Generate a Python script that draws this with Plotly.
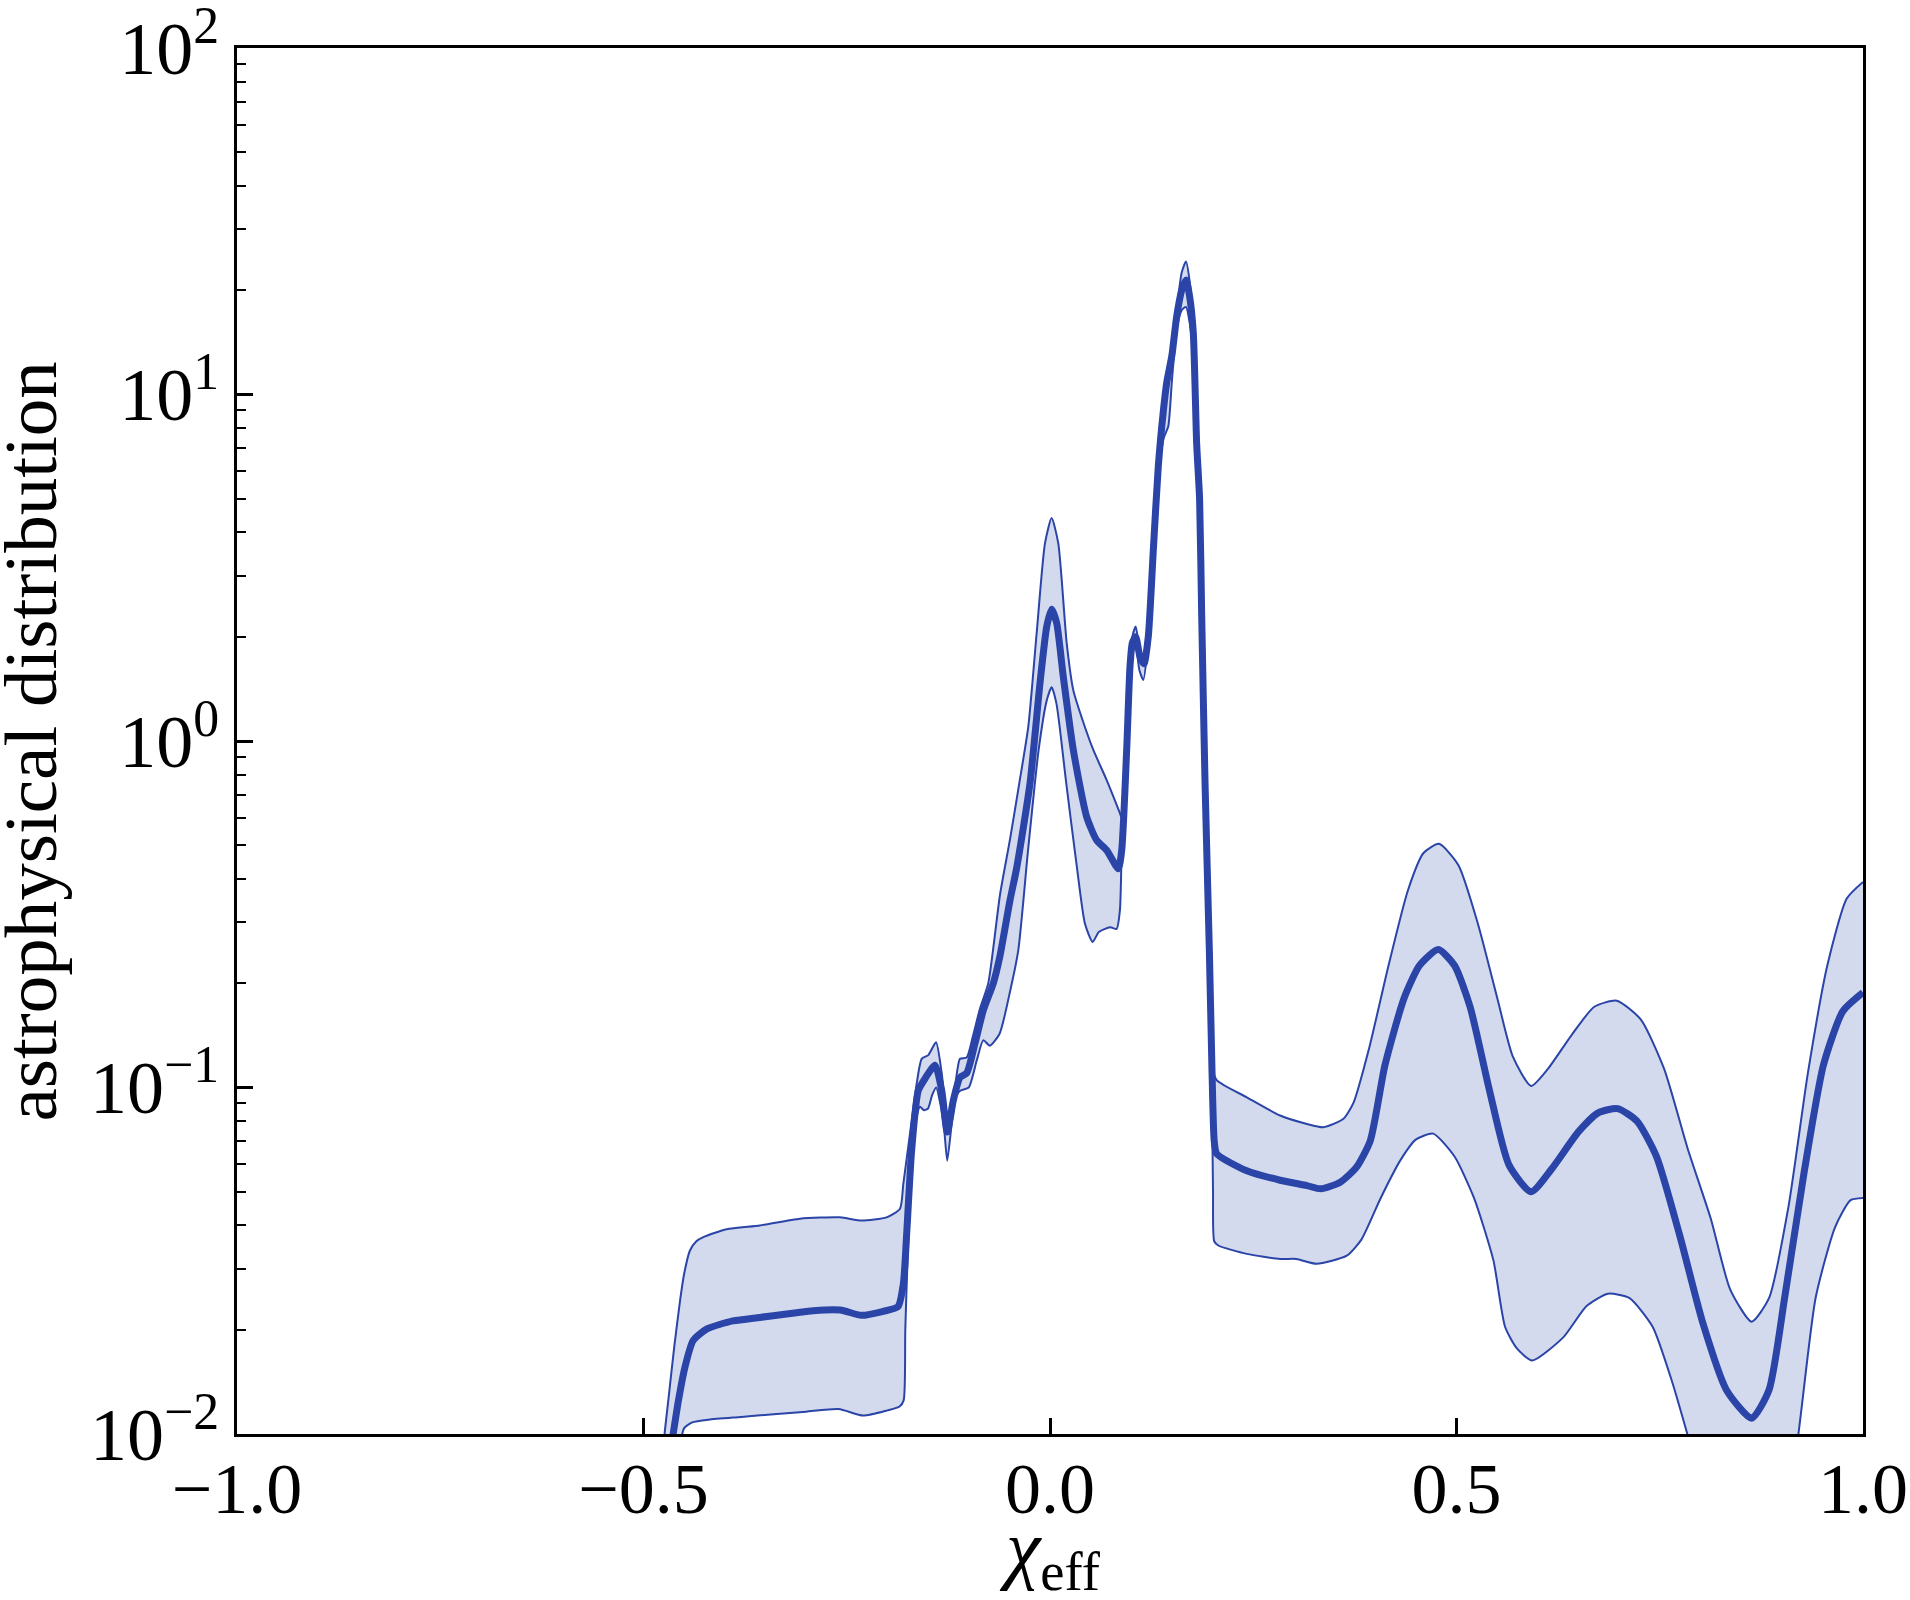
import plotly.graph_objects as go

# ---------------- data ----------------
x_median = [-0.478, -0.465, -0.457, -0.449, -0.439, -0.422, -0.390, -0.357, -0.324, -0.291,
            -0.258, -0.232, -0.205, -0.187, -0.1804, -0.1763, -0.1702, -0.162, -0.1538, -0.1415,
            -0.1332, -0.1264, -0.1189, -0.1107, -0.1025, -0.0923, -0.082, -0.0697, -0.0615, -0.0492,
            -0.041, -0.0246, -0.0123, -0.004, 0.002, 0.0082, 0.0164, 0.0287, 0.0451, 0.0574,
            0.0697, 0.084, 0.0882, 0.0943, 0.0984, 0.1013, 0.1054, 0.1107, 0.1156, 0.1209,
            0.1271, 0.1332, 0.1395, 0.1435, 0.150, 0.1558, 0.162, 0.1673, 0.172, 0.1763,
            0.1804, 0.1840, 0.1866, 0.1907, 0.196, 0.1993, 0.202, 0.205, 0.242, 0.283,
            0.316, 0.333, 0.357, 0.377, 0.394, 0.412, 0.4355, 0.4546, 0.4776, 0.4976,
            0.5167, 0.5406, 0.5645, 0.5917, 0.617, 0.6504, 0.6743, 0.6982, 0.722, 0.746,
            0.7746, 0.803, 0.832, 0.863, 0.8844, 0.9036, 0.9274, 0.9513, 0.9752, 1.0]
y_median = [0.006, 0.0095, 0.0125, 0.0156, 0.0186, 0.0201, 0.0212, 0.0217, 0.0222, 0.0227,
            0.0228, 0.022, 0.0226, 0.0233, 0.0271, 0.0378, 0.0658, 0.098, 0.106, 0.116,
            0.098, 0.0744, 0.0918, 0.107, 0.110, 0.134, 0.167, 0.20, 0.24, 0.347,
            0.43, 0.755, 1.47, 2.14, 2.40, 2.19, 1.53, 0.942, 0.604, 0.517,
            0.484, 0.428, 0.484, 0.942, 1.64, 1.92, 2.0, 1.75, 1.67, 2.0,
            3.56, 6.2, 9.0, 10.8, 13.0, 16.8, 20.0, 21.4, 19.0, 15.0,
            7.2, 5.0, 2.29, 0.755, 0.249, 0.111, 0.07, 0.0644, 0.0575, 0.054,
            0.0521, 0.051, 0.0533, 0.0589, 0.0703, 0.116, 0.181, 0.225, 0.25, 0.225,
            0.171, 0.098, 0.0598, 0.050, 0.0582, 0.0747, 0.0845, 0.0869, 0.080, 0.0632,
            0.0374, 0.0209, 0.0134, 0.0111, 0.0134, 0.0247, 0.0566, 0.116, 0.166, 0.188]

x_upper = [-0.485, -0.476, -0.4695, -0.462, -0.455, -0.45, -0.443, -0.435, -0.4264, -0.3977,
           -0.3567, -0.3075, -0.2583, -0.2317, -0.201, -0.1845, -0.1804, -0.1722, -0.164, -0.1578,
           -0.1497, -0.1402, -0.1332, -0.1264, -0.1189, -0.1107, -0.1025, -0.095, -0.0861, -0.0759,
           -0.0615, -0.0492, -0.038, -0.0267, -0.0164, -0.0062, 0.002, 0.0102, 0.0205, 0.0287,
           0.04, 0.0533, 0.0697, 0.0861, 0.0882, 0.094, 0.0984, 0.1013, 0.1054, 0.11,
           0.1156, 0.1209, 0.1271, 0.1332, 0.138, 0.1435, 0.15, 0.1558, 0.162, 0.1673,
           0.172, 0.1763, 0.1804, 0.1840, 0.1866, 0.1907, 0.196, 0.1995, 0.205, 0.242,
           0.283, 0.316, 0.336, 0.361, 0.3735, 0.3926, 0.4164, 0.4403, 0.4594, 0.4785,
           0.5024, 0.5263, 0.5502, 0.5692, 0.5917, 0.6122, 0.6409, 0.6695, 0.6972, 0.7268,
           0.7555, 0.7842, 0.8128, 0.8367, 0.863, 0.8845, 0.9084, 0.9322, 0.9561, 0.98, 1.0]
y_upper = [0.003, 0.009, 0.0125, 0.018, 0.0243, 0.029, 0.0338, 0.036, 0.037, 0.039,
           0.040, 0.0418, 0.0422, 0.0413, 0.0422, 0.0447, 0.0527, 0.0736, 0.1026, 0.121,
           0.124, 0.135, 0.11, 0.08, 0.092, 0.121, 0.122, 0.14, 0.169, 0.2,
           0.36, 0.52, 0.75, 1.10, 2.05, 3.72, 4.40, 3.72, 1.92, 1.40,
           1.15, 0.942, 0.771, 0.618, 0.60, 0.96, 1.7, 2.0, 2.14, 1.85,
           1.72, 2.1, 3.7, 6.4, 9.0, 11.3, 13.5, 17.5, 22.5, 24.2,
           21.0, 15.5, 7.6, 5.2, 2.4, 0.8, 0.26, 0.115, 0.105, 0.0937,
           0.083, 0.0785, 0.0768, 0.0812, 0.0906, 0.130, 0.225, 0.371, 0.475, 0.505,
           0.438, 0.297, 0.181, 0.123, 0.101, 0.113, 0.141, 0.171, 0.178, 0.157,
           0.113, 0.0668, 0.0418, 0.0261, 0.0211, 0.0247, 0.0454, 0.110, 0.225, 0.351, 0.392]

x_lower = [-0.475, -0.46, -0.455, -0.45, -0.44, -0.42, -0.38, -0.34, -0.30, -0.26,
           -0.23, -0.20, -0.185, -0.18, -0.178, -0.175, -0.17, -0.165, -0.16, -0.155,
           -0.15, -0.145, -0.14, -0.135, -0.13, -0.1264, -0.12, -0.115, -0.11, -0.10,
           -0.09, -0.082, -0.074, -0.062, -0.049, -0.039, -0.027, -0.014, -0.004, 0.002,
           0.008, 0.020, 0.033, 0.043, 0.0525, 0.060, 0.074, 0.082, 0.086, 0.0882,
           0.094, 0.098, 0.101, 0.105, 0.110, 0.1148, 0.120, 0.127, 0.133, 0.140,
           0.1455, 0.150, 0.156, 0.162, 0.1673, 0.172, 0.176, 0.180, 0.1840, 0.187,
           0.191, 0.196, 0.199, 0.2005, 0.202, 0.207, 0.242, 0.283, 0.303, 0.328,
           0.365, 0.383, 0.4068, 0.4307, 0.4499, 0.4713, 0.4976, 0.5215, 0.5454, 0.5597,
           0.574, 0.5931, 0.6313, 0.66, 0.6862, 0.7125, 0.7412, 0.765, 0.785, 0.81,
           0.84, 0.87, 0.90, 0.92, 0.9417, 0.9656, 0.9847, 1.0]
y_lower = [0.002, 0.006, 0.0092, 0.0104, 0.0108, 0.011, 0.0112, 0.0114, 0.0116, 0.0118,
           0.0113, 0.0117, 0.012, 0.0125, 0.02, 0.033, 0.058, 0.08, 0.088, 0.086,
           0.087, 0.095, 0.1, 0.09, 0.075, 0.0615, 0.082, 0.095, 0.098, 0.1,
           0.12, 0.137, 0.132, 0.143, 0.19, 0.249, 0.484, 0.942, 1.31, 1.43,
           1.28, 0.755, 0.434, 0.297, 0.263, 0.281, 0.29, 0.287, 0.325, 0.48,
           0.93, 1.6, 1.85, 1.9, 1.6, 1.5, 1.85, 3.4, 6.0, 7.5,
           8.1, 11.0, 15.5, 17.5, 17.9, 16.0, 13.5, 6.8, 4.6, 2.2,
           0.72, 0.24, 0.105, 0.05, 0.036, 0.035, 0.0331, 0.032, 0.032, 0.031,
           0.0327, 0.0364, 0.048, 0.0615, 0.0707, 0.0736, 0.0632, 0.048, 0.0317, 0.0204,
           0.0177, 0.0163, 0.019, 0.0234, 0.0254, 0.0247, 0.0204, 0.0142, 0.0098, 0.006,
           0.0035, 0.003, 0.005, 0.0098, 0.0247, 0.0395, 0.0473, 0.048]

x_tickvals = [-1.0, -0.5, 0.0, 0.5, 1.0]
x_ticktext = ["\u22121.0", "\u22120.5", "0.0", "0.5", "1.0"]
y_tickvals = [0.01, 0.1, 1, 10, 100]
y_ticktext = ["10<sup>\u22122</sup>", "10<sup>\u22121</sup>", "10<sup>0</sup>",
              "10<sup>1</sup>", "10<sup>2</sup>"]
y_minor = [m * 10.0 ** e for e in (-2, -1, 0, 1) for m in range(2, 10)]
x_title = "<i>\u03c7</i><sub>eff</sub>"
y_title = "astrophysical distribution"

assert len(x_median) == len(y_median)
assert len(x_upper) == len(y_upper)
assert len(x_lower) == len(y_lower)

LINE = "rgb(42,68,168)"
FILL = "rgba(42,68,168,0.2)"
FONT = "Liberation Serif"
SMOOTH = 0.6

fig = go.Figure()
fig.add_trace(go.Scatter(x=x_upper, y=y_upper, mode="lines",
                         line=dict(color=LINE, width=2, shape="spline", smoothing=SMOOTH),
                         showlegend=False, hoverinfo="skip"))
fig.add_trace(go.Scatter(x=x_lower, y=y_lower, mode="lines", fill="tonexty", fillcolor=FILL,
                         line=dict(color=LINE, width=2, shape="spline", smoothing=SMOOTH),
                         showlegend=False, hoverinfo="skip"))
fig.add_trace(go.Scatter(x=x_median, y=y_median, mode="lines",
                         line=dict(color=LINE, width=7, shape="spline", smoothing=SMOOTH),
                         showlegend=False))

fig.update_layout(
    width=1910, height=1600,
    margin=dict(l=237, r=47, t=48, b=166),
    paper_bgcolor="white", plot_bgcolor="white",
    font=dict(family=FONT, size=72, color="black"),
)
fig.update_xaxes(
    range=[-1, 1], showgrid=False, zeroline=False, automargin=False,
    showline=True, linecolor="black", linewidth=3, mirror=True,
    ticks="inside", ticklen=16, tickwidth=2.5, tickcolor="black",
    tickvals=x_tickvals, ticktext=x_ticktext, ticklabeloverflow="allow",
    ticklabelstandoff=-10,
    tickfont=dict(family=FONT, size=72),
)
fig.update_yaxes(
    type="log", range=[-2, 2], showgrid=False, zeroline=False, automargin=False,
    showline=True, linecolor="black", linewidth=3, mirror=True,
    ticks="inside", ticklen=16, tickwidth=2.5, tickcolor="black",
    tickvals=y_tickvals, ticktext=y_ticktext, ticklabeloverflow="allow",
    tickfont=dict(family=FONT, size=74),
    minor=dict(tickvals=y_minor, ticks="inside", ticklen=9, tickwidth=2, tickcolor="black", showgrid=False),
)
# axis titles placed as annotations in the margins
fig.add_annotation(text=x_title, x=0.0, xref="x", y=-0.086, yref="paper",
                   xanchor="center", yanchor="middle", showarrow=False,
                   font=dict(family=FONT, size=78, color="black"))
fig.add_annotation(text=y_title, x=-0.127, xref="paper", y=0.5, yref="paper",
                   xanchor="center", yanchor="middle", textangle=-90, showarrow=False,
                   font=dict(family=FONT, size=75, color="black"))

fig.write_html("out.html")
